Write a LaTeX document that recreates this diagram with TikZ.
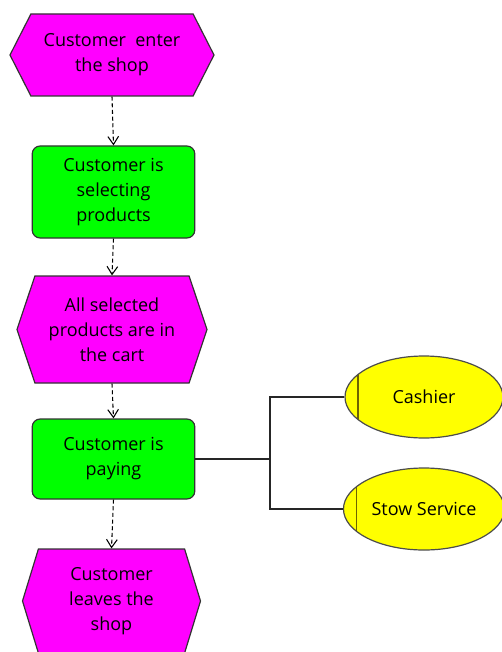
\documentclass[tikz,border=0pt]{standalone}
\usepackage{fontspec}
\setmainfont{Open Sans}
\usepackage{xcolor}
\usetikzlibrary{arrows.meta,positioning,shapes.geometric,shapes.symbols}
\definecolor{evtc}{RGB}{255,0,255}
\definecolor{fnc}{RGB}{0,255,0}
\definecolor{orgc}{RGB}{255,255,0}
\definecolor{orgline}{RGB}{110,100,0}

\begin{document}
\begin{tikzpicture}[x=0.75pt,y=-0.75pt,
  font=\fontsize{13.5}{18.75}\selectfont,
  event/.style={shape=signal,signal to=west and east,draw=black!80,fill=evtc,
    line width=0.9pt,align=center,inner sep=0pt},
  func/.style={draw=black!80,fill=fnc,rounded corners=6pt,line width=0.9pt,
    align=center,minimum width=122pt},
  org/.style={ellipse,draw=black!70,fill=orgc,line width=0.9pt,
    minimum width=118.5pt,minimum height=61.5pt,
    path picture={\draw[orgline,line width=1.2pt]
      ([xshift=9.75pt]path picture bounding box.north west) --
      ([xshift=9.75pt]path picture bounding box.south west);}},
  flow/.style={densely dashed,line width=0.8pt,
    -{Straight Barb[length=6pt,width=8pt]}},
  link/.style={line width=0.8pt,black!85}]

\useasboundingbox (0,0) rectangle (501,652);

% events and functions
\node[event,minimum width=153pt,minimum height=61.5pt,signal pointer angle=126]
  (enter) at (112,55) {Customer~~enter\\the shop};
\node[func,minimum height=69pt] (select) at (113.5,192)
  {Customer is\\selecting\\products};
\node[event,minimum width=142.5pt,minimum height=80.25pt,signal pointer angle=143]
  (cart) at (112,329.5) {All selected\\products are in\\the cart};
\node[func,minimum height=60pt] (pay) at (113.5,459) {Customer is\\paying};
\node[event,minimum width=133.5pt,minimum height=78pt,signal pointer angle=146]
  (leave) at (111.5,601) {Customer\\leaves the\\shop};

% control flow
\draw[flow] (enter.south) -- (select.north);
\draw[flow] (select.south) -- (cart.north);
\draw[flow] (cart.south) -- (pay.north);
\draw[flow] (pay.south) -- (leave.north);

% organisational units
\node[org] (cash) at (424,397) {Cashier};
\node[org] (stow) at (424,509) {Stow Service};
\coordinate (jn) at (270,459);
\draw[link] (pay.east) -- (jn);
\draw[link] (cash.west) -| (jn) |- (stow.west);

\end{tikzpicture}
\end{document}
